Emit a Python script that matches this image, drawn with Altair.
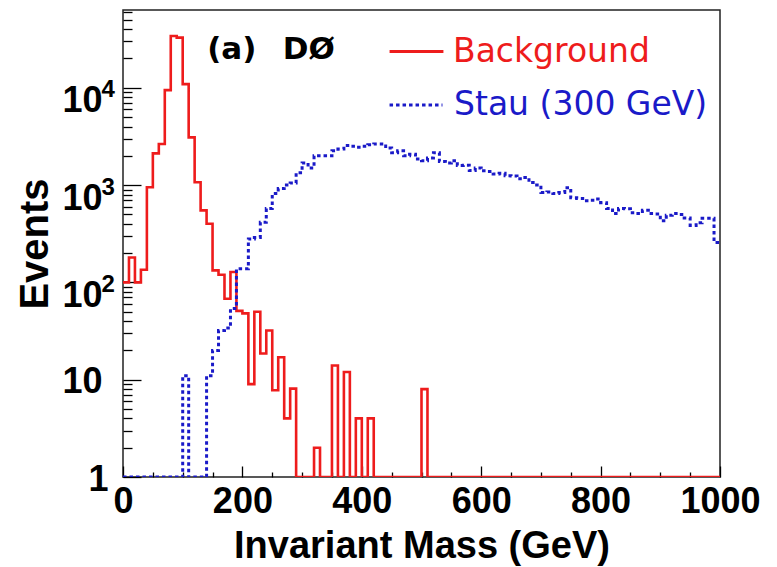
import altair as alt
import pandas as pd

# ---------------- data ----------------
bin_low = list(range(0, 1000, 10))  # 10 GeV bins, 0..1000 GeV

background = [
    100, 180, 100, 135, 950, 2120, 2640, 9460, 34100, 32800,
    10900, 3090, 1070, 550, 400, 133, 120, 68, 128, 51,
    48, 9, 50, 18.6, 32, 7.8, 17, 4, 8.1, 1,
    1, 1, 2, 1, 1, 14, 1, 12, 1, 4,
    1, 4, 1, 1, 1, 1, 1, 1, 1, 1,
    8, 1, 1, 1, 1, 1, 1, 1, 1, 1,
    1, 1, 1, 1, 1, 1, 1, 1, 1, 1,
    1, 1, 1, 1, 1, 1, 1, 1, 1, 1,
    1, 1, 1, 1, 1, 1, 1, 1, 1, 1,
    1, 1, 1, 1, 1, 1, 1, 1, 1, 1,
]

stau = [
    1, 1, 1, 1, 1, 1, 1, 1, 1, 1,
    11, 1, 1, 1, 11, 20, 32, 34, 54, 138,
    138, 280, 290, 415, 575, 820, 920, 1000, 1050, 1340,
    1690, 1500, 2000, 2000, 2000, 2250, 2350, 2550, 2500, 2450,
    2500, 2600, 2650, 2650, 2400, 2150, 2250, 2000, 2080, 1850,
    1780, 1900, 2150, 1750, 1690, 1780, 1590, 1600, 1410, 1500,
    1400, 1380, 1300, 1320, 1250, 1240, 1160, 1200, 1060, 1000,
    840, 850, 820, 840, 940, 740, 730, 690, 700, 720,
    660, 575, 510, 575, 570, 520, 510, 550, 510, 505,
    430, 490, 510, 500, 460, 385, 410, 455, 455, 257,
]

x_major = [0, 200, 400, 600, 800, 1000]
x_ticks = [0, 50, 100, 150, 200, 250, 300, 350, 400, 450, 500,
           550, 600, 650, 700, 750, 800, 850, 900, 950, 1000]
y_major = [1, 10, 100, 1000, 10000]
y_ticks = [m * 10 ** e for e in range(5) for m in range(1, 10) if m * 10 ** e <= 63000]

series_names = ["Background", "Stau (300 GeV)"]
tag_text = ["(a)\u2002\u00a0D\u00d8"]

# ---------------- styling ----------------
W, H = 597, 467
RED = "#ee1c1c"
BLUE = "#1a1ac8"
FONT = "Liberation Sans"
FONT_WIDE = "DejaVu Sans"


def hist_frame(values, name):
    return pd.DataFrame({
        "mass": bin_low + [1000],
        "events": values + [values[-1]],
        "series": name,
    })


red_df = hist_frame(background, series_names[0])
blue_df = hist_frame(stau, series_names[1])

xscale = alt.Scale(domain=[0, 1000], nice=False, zero=False)
yscale = alt.Scale(type="log", domain=[1, 63000], nice=False, clamp=True)

# x: labels + title (no ticks)
axis_x_labels = alt.Axis(
    values=x_major, format="d", ticks=False, tickSize=0, domain=False, grid=False,
    labelFont=FONT, labelFontWeight="bold", labelFontSize=36, labelColor="black",
    labelPadding=7, labelFlush=False, labelOverlap=False, labelBound=False,
    title="Invariant Mass (GeV)", titleFont=FONT, titleFontSize=38,
    titleFontWeight="bold", titleColor="black", titlePadding=8,
)
# y: mantissa labels "1", "10", "10" ... + title
axis_y_labels = alt.Axis(
    values=y_major,
    labelExpr="datum.value == 1 ? '1' : '10'",
    labelOffset={"condition": {"test": "datum.value >= 100", "value": 13}, "value": 2},
    labelPadding={"condition": {"test": "datum.value == 1", "value": 15}, "value": 21},
    ticks=False, tickSize=0, domain=False, grid=False,
    labelFont=FONT, labelFontWeight="bold", labelFontSize=36, labelColor="black",
    labelFlush=False, labelOverlap=False, labelBound=False,
    title="Events", titleFont=FONT, titleFontSize=40,
    titleFontWeight="bold", titleColor="black", titlePadding=6,
)
# inward ticks (axes flipped onto the opposite edge)
axis_x_ticks = alt.Axis(
    orient="top", offset=-H, values=x_ticks, ticks=True,
    tickSize={"condition": {"test": "datum.value % 200 == 0", "value": 11}, "value": 5},
    tickWidth=1.3, tickColor="black", labels=False, domain=False, grid=False, title="",
)
axis_y_ticks = alt.Axis(
    orient="right", offset=-W, values=y_ticks, ticks=True,
    tickSize={"condition": {"test": "indexof([1, 10, 100, 1000, 10000], datum.value) >= 0",
                            "value": 18}, "value": 9},
    tickWidth=1.3, tickColor="black", labels=False, domain=False, grid=False, title="",
)
# exponents of the 10^n labels
axis_x_empty = alt.Axis(
    values=x_major, ticks=False, tickSize=0, labels=False, domain=False, grid=False, title="",
)
axis_y_exponent = alt.Axis(
    values=[100, 1000, 10000],
    labelExpr="datum.value == 100 ? '2' : datum.value == 1000 ? '3' : '4'",
    labelAlign="left", labelOffset=2, ticks=False, tickSize=0, domain=False, grid=False,
    labelFont=FONT, labelFontWeight="bold", labelFontSize=24, labelColor="black",
    labelPadding=22, labelFlush=False, labelOverlap=False, labelBound=False, title="",
)

legend_red = alt.Legend(
    orient="none", legendX=265, legendY=13, title="", symbolType="stroke",
    symbolSize=2900, symbolStrokeWidth=3, labelOffset=8, labelFont=FONT_WIDE,
    labelFontSize=33, labelColor=RED, labelLimit=500, padding=0,
)
legend_blue = alt.Legend(
    orient="none", legendX=265, legendY=67, title="", symbolType="stroke",
    symbolSize=2800, symbolStrokeWidth=3, symbolDash=[3.5, 3], labelOffset=10,
    labelFont=FONT_WIDE, labelFontSize=33, labelColor=BLUE, labelLimit=500, padding=0,
)

red = alt.Chart(red_df).mark_line(
    interpolate="step-after", strokeWidth=2.6, strokeCap="butt", strokeJoin="miter", clip=True
).encode(
    x=alt.X("mass:Q", scale=xscale, axis=axis_x_labels),
    y=alt.Y("events:Q", scale=yscale, axis=axis_y_labels),
    color=alt.Color("series:N", scale=alt.Scale(domain=[series_names[0]], range=[RED]),
                    legend=legend_red),
)

blue = alt.Chart(blue_df).mark_line(
    interpolate="step-after", strokeWidth=3, strokeDash=[3.5, 3], strokeCap="butt", clip=True
).encode(
    x=alt.X("mass:Q", scale=xscale, axis=axis_x_ticks),
    y=alt.Y("events:Q", scale=yscale, axis=axis_y_ticks),
    color=alt.Color("series:N", scale=alt.Scale(domain=[series_names[1]], range=[BLUE]),
                    legend=legend_blue),
)

tag = alt.Chart(pd.DataFrame({"tag": tag_text})).mark_text(
    font=FONT_WIDE, fontWeight="bold", fontSize=31, color="black", align="left",
    baseline="alphabetic",
).encode(
    x=alt.XDatum(141, scale=xscale, axis=axis_x_empty, type="quantitative"),
    y=alt.YDatum(19800, scale=yscale, axis=axis_y_exponent, type="quantitative"),
    text="tag:N",
)

chart = alt.layer(red, blue, tag).resolve_scale(
    color="independent"
).resolve_axis(
    x="independent", y="independent"
).properties(
    width=W, height=H,
    autosize=alt.AutoSizeParams(type="none"),
    padding={"left": 123, "top": 10, "right": 57, "bottom": 90},
    background="white",
).configure_view(
    stroke="#222222", strokeWidth=1.5
)

chart.save("out.html", embed_options={"renderer": "svg", "actions": False})
